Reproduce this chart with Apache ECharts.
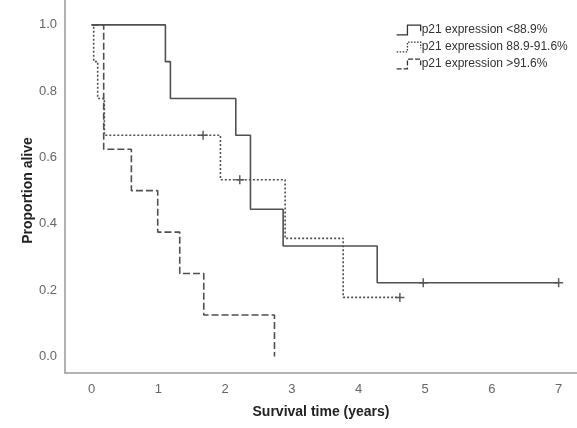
<!DOCTYPE html>
<html>
<head>
<meta charset="utf-8">
<script src="https://cdn.jsdelivr.net/npm/echarts@6/dist/echarts.min.js"></script>
<style>
html,body{margin:0;padding:0;background:#fff;}
#chart{width:577px;height:428px;}
</style>
</head>
<body>
<div id="chart"></div>
<script>
// Kaplan-Meier step points [time (years), proportion alive]
var lowTimes   = [0, 1.105, 1.18, 2.16, 2.38, 2.87, 4.28, 7.0];
var lowSurv    = [1.0, 0.889, 0.778, 0.667, 0.444, 0.333, 0.222, 0.222];
var midTimes   = [0, 0.03, 0.09, 0.19, 1.93, 2.90, 3.77, 4.62];
var midSurv    = [1.0, 0.889, 0.778, 0.667, 0.533, 0.356, 0.178, 0.178];
var highTimes  = [0, 0.18, 0.595, 0.99, 1.32, 1.68, 2.74];
var highSurv   = [1.0, 0.625, 0.5, 0.375, 0.25, 0.125, 0.0];
// censored observations
var lowCensT   = [4.97, 7.0];
var lowCensS   = [0.222, 0.222];
var midCensT   = [1.67, 2.22, 4.62];
var midCensS   = [0.667, 0.533, 0.178];

var seriesNames = ['p21 expression <88.9%', 'p21 expression 88.9-91.6%', 'p21 expression >91.6%'];
var xTicks = [0, 1, 2, 3, 4, 5, 6, 7];
var yTicks = [0, 0.2, 0.4, 0.6, 0.8, 1.0];

function zip(a, b) { return a.map(function (v, i) { return [v, b[i]]; }); }

var lineCol = '#505050';
var plus = 'path://M5,0L5,10M0,5L10,5';
var iconPath = 'path://M0,9L9,9L9,1L20,1L20,6';

var chart = echarts.init(document.getElementById('chart'));
chart.setOption({
  animation: false,
  textStyle: { fontFamily: 'Liberation Sans, Arial, sans-serif' },
  grid: { left: 65, right: 0, top: 0, height: 373 },
  legend: {
    orient: 'vertical', left: 391, top: 19, itemGap: 5,
    itemWidth: 24, itemHeight: 12,
    textStyle: { fontSize: 12, color: '#333', padding: [0, 0, 0, -4] },
    data: [
      { name: seriesNames[0], icon: iconPath, itemStyle: { color: 'rgba(0,0,0,0)', borderColor: '#333', borderWidth: 1.3, borderType: 'solid' } },
      { name: seriesNames[1], icon: iconPath, itemStyle: { color: 'rgba(0,0,0,0)', borderColor: '#333', borderWidth: 1.3, borderType: [1.5, 1.5] } },
      { name: seriesNames[2], icon: iconPath, itemStyle: { color: 'rgba(0,0,0,0)', borderColor: '#333', borderWidth: 1.3, borderType: [5, 2] } }
    ]
  },
  xAxis: {
    type: 'value', min: -0.4, max: 7.275,
    name: 'Survival time (years)', nameLocation: 'middle', nameGap: 32,
    nameMoveOverlap: false,
    nameTextStyle: { fontSize: 14, fontWeight: 'bold', color: '#222' },
    axisLine: { show: true, onZero: false, lineStyle: { color: '#999', width: 1.5 } },
    axisTick: { show: false },
    splitLine: { show: false },
    axisLabel: { customValues: xTicks, fontSize: 13, color: '#666', margin: 10 }
  },
  yAxis: {
    type: 'value', min: -0.05, max: 1.075,
    name: 'Proportion alive', nameLocation: 'middle', nameGap: 30,
    nameMoveOverlap: false,
    nameTextStyle: { fontSize: 14, fontWeight: 'bold', color: '#222', padding: [0, 0, 0, -8] },
    axisLine: { show: true, onZero: false, lineStyle: { color: '#999', width: 1.5 } },
    axisTick: { show: false },
    splitLine: { show: false },
    axisLabel: { customValues: yTicks, fontSize: 13, color: '#666', margin: 8,
      formatter: function (v) { return v.toFixed(1); } }
  },
  series: [
    { name: seriesNames[0], type: 'line', step: 'end', symbol: 'none',
      data: zip(lowTimes, lowSurv), lineStyle: { color: lineCol, width: 1.6, type: 'solid' }, itemStyle: { color: lineCol } },
    { name: seriesNames[1], type: 'line', step: 'end', symbol: 'none',
      data: zip(midTimes, midSurv), lineStyle: { color: lineCol, width: 1.6, type: [2, 2] }, itemStyle: { color: lineCol } },
    { name: seriesNames[2], type: 'line', step: 'end', symbol: 'none',
      data: zip(highTimes, highSurv), lineStyle: { color: lineCol, width: 1.6, type: [7, 3] }, itemStyle: { color: lineCol } },
    { type: 'scatter', symbol: plus, symbolSize: 9, data: zip(lowCensT, lowCensS),
      itemStyle: { color: 'rgba(0,0,0,0)', borderColor: '#333', borderWidth: 1.5 } },
    { type: 'scatter', symbol: plus, symbolSize: 9, data: zip(midCensT, midCensS),
      itemStyle: { color: 'rgba(0,0,0,0)', borderColor: '#333', borderWidth: 1.5 } }
  ]
});
</script>
</body>
</html>
